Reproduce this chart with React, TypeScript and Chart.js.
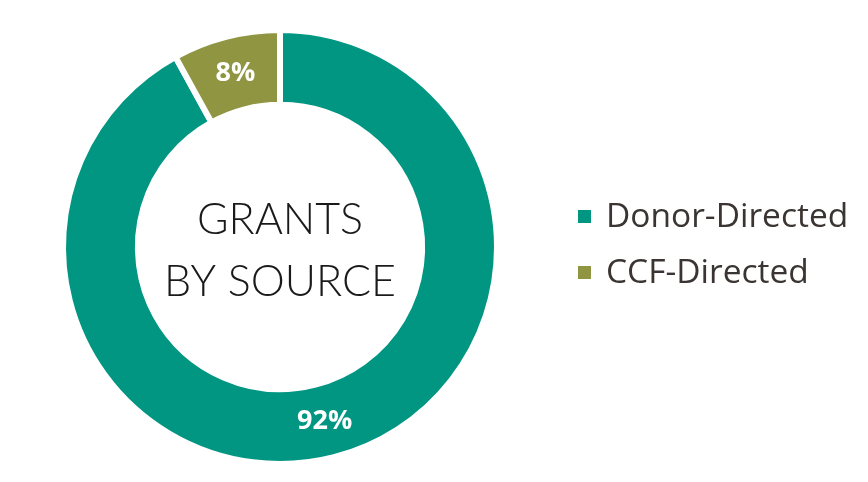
import React, { useEffect, useRef } from "react";
import { Chart, registerables } from "chart.js";

Chart.register(...registerables);

const categories = ["Donor-Directed", "CCF-Directed"];
const values = [92, 8];
const colors = ["#009682", "#8f9540"];
const centerLines = ["GRANTS", "BY SOURCE"];

const overlayPlugin = {
  id: "overlay",
  afterDraw(chart: any) {
    const ctx = chart.ctx;
    const meta = chart.getDatasetMeta(0);
    ctx.save();
    // percent labels
    ctx.fillStyle = "#ffffff";
    ctx.font = "bold 27px 'Open Sans'";
    ctx.textAlign = "center";
    ctx.textBaseline = "middle";
    const total = values.reduce((a, b) => a + b, 0);
    meta.data.forEach((arc: any, i: number) => {
      const p = arc.getCenterPoint();
      ctx.fillText(Math.round((values[i] / total) * 100) + "%", p.x, p.y);
    });
    // center text
    const first = meta.data[0];
    const cx = first.x;
    const cy = first.y;
    ctx.fillStyle = "#1a1a1a";
    ctx.font = "300 43px Lato";
    ctx.fillText(centerLines[0], cx, cy - 27);
    ctx.fillText(centerLines[1], cx, cy + 35);
    // legend
    ctx.textAlign = "left";
    ctx.font = "33.5px 'Open Sans'";
    categories.forEach((c, i) => {
      const y = 217 + i * 56;
      ctx.fillStyle = colors[i];
      ctx.fillRect(578, y - 7, 13, 13);
      ctx.fillStyle = "#3a3532";
      ctx.fillText(c, 606, y);
    });
    ctx.restore();
  },
};

export default function App() {
  const ref = useRef<HTMLCanvasElement>(null);
  useEffect(() => {
    document.body.style.margin = "0";
    const chart = new Chart(ref.current!, {
      type: "doughnut",
      data: {
        labels: categories,
        datasets: [
          {
            data: values,
            backgroundColor: colors,
            borderColor: "#ffffff",
            borderWidth: 6,
            borderJoinStyle: "miter",
          } as any,
        ],
      },
      options: {
        animation: false,
        responsive: false,
        cutout: "65.5%",
        layout: { padding: { left: 60, right: 368, top: 27, bottom: 15 } },
        plugins: { legend: { display: false }, tooltip: { enabled: false } },
      },
      plugins: [overlayPlugin],
    });
    return () => chart.destroy();
  }, []);
  return (
    <div style={{ width: 868, height: 482, background: "#fff" }}>
      <canvas ref={ref} width={868} height={482} />
    </div>
  );
}
